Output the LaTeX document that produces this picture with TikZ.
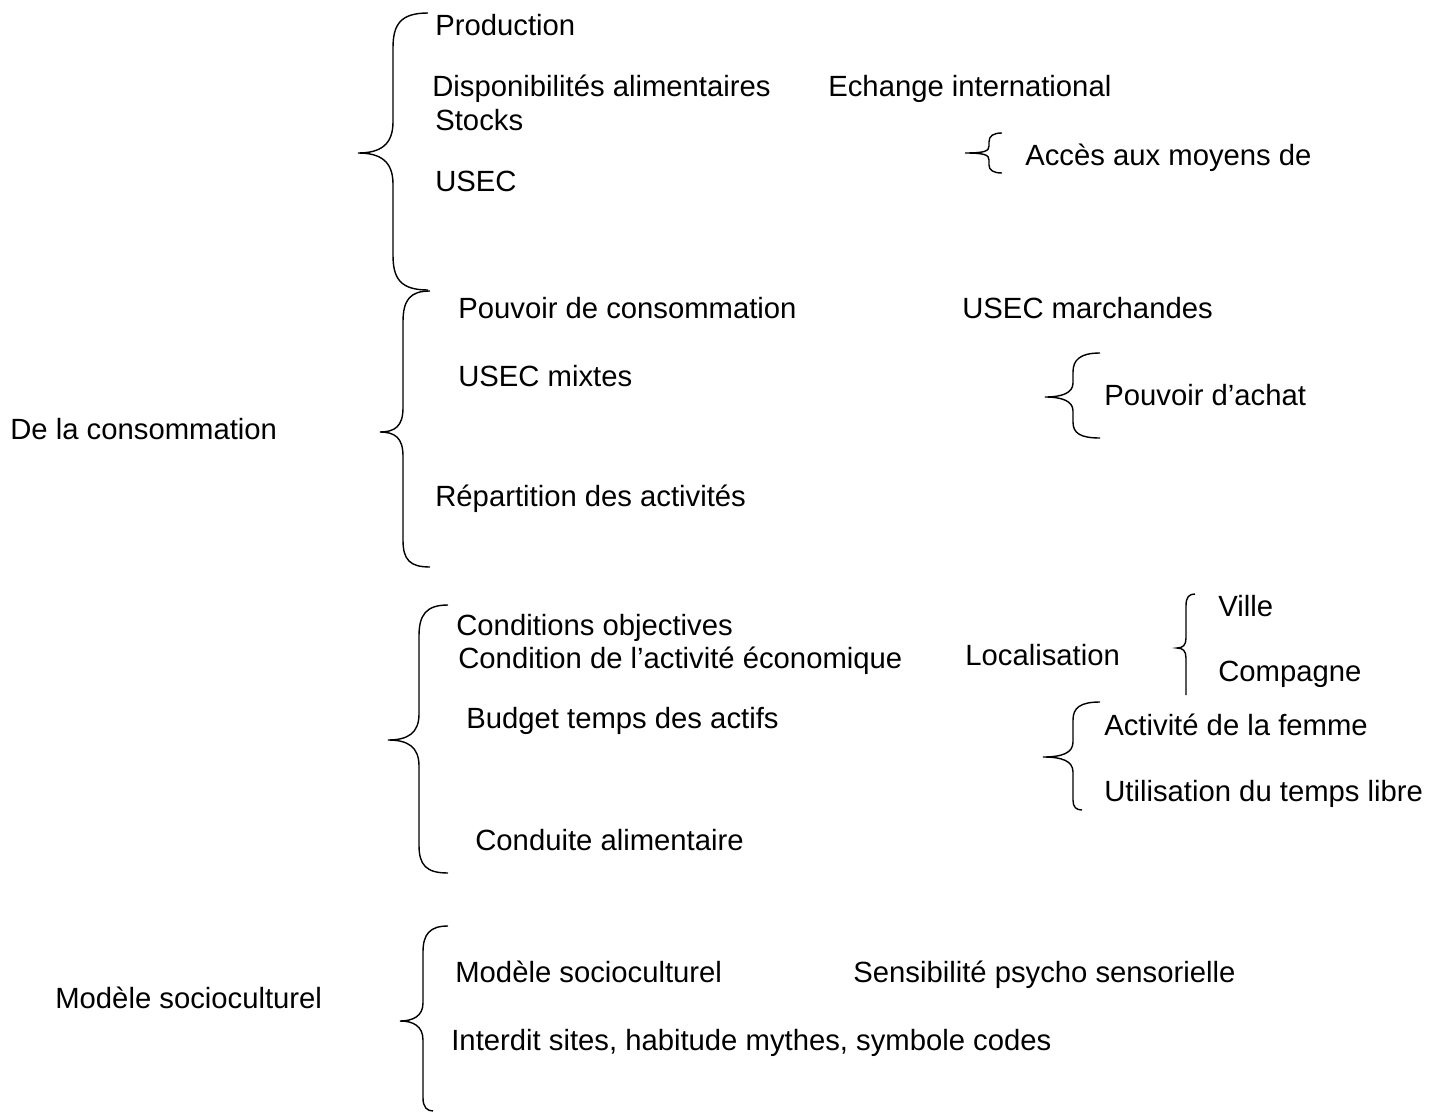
\documentclass[tikz,border=0pt]{standalone}
\usepackage{fontspec}
\setmainfont{Liberation Sans}
\usetikzlibrary{positioning}

\tikzset{
  lbl/.style={anchor=west,inner sep=0pt,text height=1.5ex,text depth=.25ex,
    yshift=-0.08cm,font=\fontsize{16.65}{20}\selectfont},
  brace/.style={draw,line width=0.8pt}
}

\begin{document}
\begin{tikzpicture}[x=0.02cm,y=-0.02cm]
\useasboundingbox (0,0) rectangle (1438,1112);

% De la consommation
\node[lbl] (conso) at (10,430) {De la consommation};

% premier groupe
\node[lbl] (prod) at (435,26) {Production};
\node[lbl] (dispo) at (432,87) {Disponibilités alimentaires};
\node[lbl] (echange) at (828,87) {Echange international};
\node[lbl] (stocks) at (435,121) {Stocks};
\node[lbl] (acces) at (1025,156) {Accès aux moyens de};
\node[lbl] (usec) at (435,182) {USEC};
\draw[brace] (428,13) .. controls (400,13) and (393,25) .. (393,48) -- (393,122)
  .. controls (393,145) and (380,153) .. (358,153) .. controls (380,153) and (393,161) .. (393,184)
  -- (393,255) .. controls (393,278) and (400,290) .. (428,290);
\draw[brace] (1002,133) .. controls (993,133) and (989,136) .. (989,142) -- (989,146)
  .. controls (989,151) and (985,153) .. (965,153) .. controls (985,153) and (989,155) .. (989,160)
  -- (989,165) .. controls (989,170) and (993,173) .. (1002,173);

% second groupe
\node[lbl] (pouvoir) at (458,309) {Pouvoir de consommation};
\node[lbl] (marchandes) at (962,309) {USEC marchandes};
\node[lbl] (mixtes) at (458,377) {USEC mixtes};
\node[lbl] (achat) at (1104,396) {Pouvoir d’achat};
\node[lbl] (repart) at (435,497) {Répartition des activités};
\draw[brace] (430,291) .. controls (410,291) and (403,300) .. (403,322) -- (403,408)
  .. controls (403,426) and (395,432) .. (380,432) .. controls (395,432) and (403,438) .. (403,456)
  -- (403,540) .. controls (403,560) and (410,567) .. (430,567);
\draw[brace] (1100,353) .. controls (1080,353) and (1073,360) .. (1073,372) -- (1073,383)
  .. controls (1073,393) and (1062,397) .. (1045,397) .. controls (1062,397) and (1073,401) .. (1073,411)
  -- (1073,422) .. controls (1073,433) and (1080,438) .. (1100,438);

% conditions objectives
\node[lbl] (objectives) at (456,626) {Conditions objectives};
\node[lbl] (activite) at (458,659) {Condition de l’activité économique};
\node[lbl] (local) at (965,656) {Localisation};
\node[lbl] (ville) at (1218,607) {Ville};
\node[lbl] (compagne) at (1218,672) {Compagne};
\node[lbl] (budget) at (466,719) {Budget temps des actifs};
\node[lbl] (femme) at (1104,726) {Activité de la femme};
\node[lbl] (libre) at (1104,792) {Utilisation du temps libre};
\node[lbl] (conduite) at (475,841) {Conduite alimentaire};
\draw[brace] (448,605) .. controls (426,605) and (419,615) .. (419,636) -- (419,714)
  .. controls (419,733) and (408,740) .. (388,740) .. controls (408,740) and (419,747) .. (419,766)
  -- (419,845) .. controls (419,865) and (426,873) .. (448,873);
\draw[brace] (1195,594) .. controls (1189,594) and (1186,597) .. (1186,606) -- (1186,638)
  .. controls (1186,645) and (1183,648) .. (1177,648) .. controls (1183,648) and (1186,651) .. (1186,658)
  -- (1186,695);
\draw[brace] (1100,702) .. controls (1080,702) and (1073,708) .. (1073,720) -- (1073,742)
  .. controls (1073,753) and (1062,757) .. (1043,757) .. controls (1062,757) and (1073,761) .. (1073,772)
  -- (1073,800) .. controls (1073,807) and (1076,810) .. (1082,810);

% modele socioculturel
\node[lbl] (modele) at (55,999) {Modèle socioculturel};
\node[lbl] (modele2) at (455,973) {Modèle socioculturel};
\node[lbl] (sensib) at (853,973) {Sensibilité psycho sensorielle};
\node[lbl] (interdit) at (451,1041) {Interdit sites, habitude mythes, symbole codes};
\draw[brace] (448,926) .. controls (430,926) and (423,934) .. (423,952) -- (423,1003)
  .. controls (423,1016) and (413,1021) .. (400,1021) .. controls (413,1021) and (423,1026) .. (423,1040)
  -- (423,1098) .. controls (423,1107) and (427,1111) .. (433,1111);

\end{tikzpicture}
\end{document}
